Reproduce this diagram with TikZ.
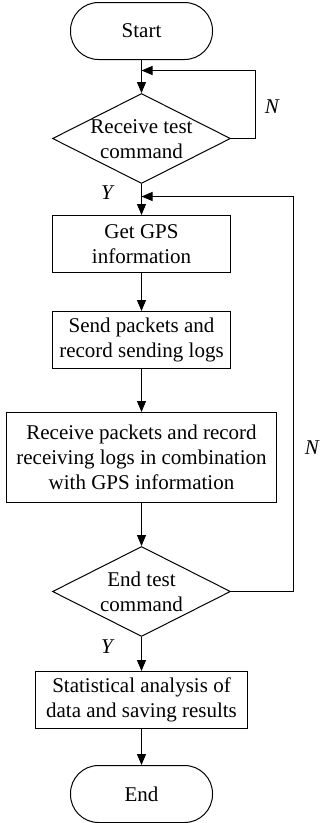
\documentclass[tikz,border=0pt]{standalone}
\usepackage{fontspec}
\setmainfont{Liberation Serif}
\usetikzlibrary{arrows.meta,shapes.geometric}
\tikzset{
  base/.style={draw, line width=1pt, inner sep=0pt, font=\fontsize{21pt}{25pt}\selectfont, align=center},
  term/.style={base, rectangle, rounded corners=28pt, minimum width=142pt, minimum height=57pt},
  proc/.style={base, rectangle, minimum height=57pt},
  dia/.style={draw, line width=1pt, diamond, inner sep=0pt, minimum width=178pt, minimum height=90pt},
  txt/.style={inner sep=0pt, font=\fontsize{21pt}{25.5pt}\selectfont, align=center},
  lbl/.style={inner sep=0pt, font=\fontsize{21pt}{25pt}\selectfont\itshape},
  conn/.style={line width=1pt, -{Triangle[length=11pt,width=9pt]}}
}
\begin{document}
\begin{tikzpicture}[x=1pt,y=-1pt]
\useasboundingbox (0,0) rectangle (321,823);
\node[term] (start) at (141.5,31) {Start};
\node[dia] (d1) at (141.5,138.5) {};
\node[txt] (t1) at (141.5,139) {Receive test\\command};
\node[proc, minimum width=178pt] (gps) at (141.5,244) {Get GPS\\information};
\node[proc, minimum width=178pt] (send) at (141.5,340) {Send packets and\\record sending logs};
\node[proc, minimum width=270pt, minimum height=90pt] (recv) at (141.5,457.5) {Receive packets and record\\receiving logs in combination\\with GPS information};
\node[dia] (d2) at (141.5,591.5) {};
\node[txt] (t2) at (141.5,592) {End test\\command};
\node[proc, minimum width=212pt] (stat) at (141.5,700) {Statistical analysis of\\data and saving results};
\node[term] (end) at (141.5,794) {End};

\coordinate (j1) at (141.5,70.5);
\coordinate (r1) at (255.5,70.5);
\coordinate (j2) at (141.5,196.5);
\coordinate (r2) at (293.5,196.5);

\draw[conn] (start) -- (d1.north);
\draw[conn] (d1.east) -| (r1) -- (j1);
\draw[conn] (d1.south) -- (gps);
\draw[conn] (gps) -- (send);
\draw[conn] (send) -- (recv);
\draw[conn] (recv) -- (d2.north);
\draw[conn] (d2.east) -| (r2) -- (j2);
\draw[conn] (d2.south) -- (stat);
\draw[conn] (stat) -- (end);

\node[lbl] (n1) at (272,107) {N};
\node[lbl] (y1) at (107,193) {Y};
\node[lbl] (n2) at (312,448) {N};
\node[lbl] (y2) at (107,647) {Y};
\end{tikzpicture}
\end{document}
